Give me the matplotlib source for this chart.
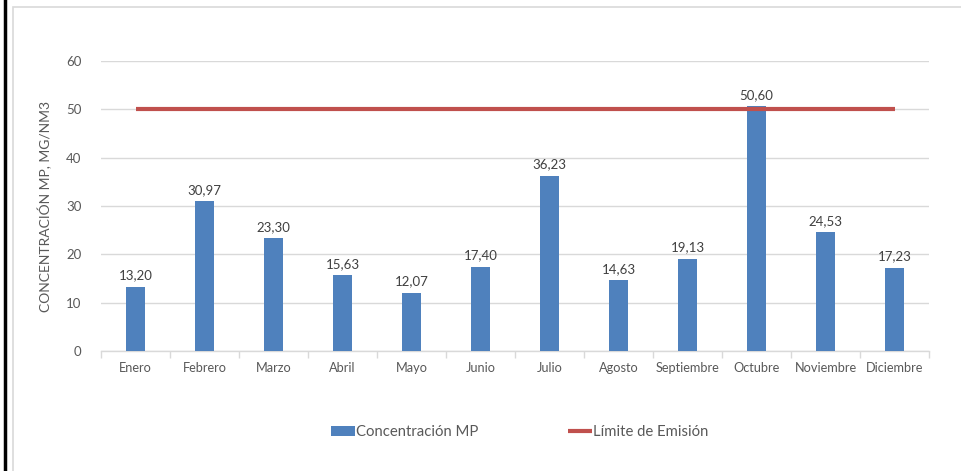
import matplotlib
matplotlib.use("Agg")
import matplotlib.pyplot as plt
from matplotlib.patches import Rectangle
from matplotlib.lines import Line2D
import numpy as np

months = ["Enero", "Febrero", "Marzo", "Abril", "Mayo", "Junio", "Julio",
          "Agosto", "Septiembre", "Octubre", "Noviembre", "Diciembre"]
concentracion = [13.20, 30.97, 23.30, 15.63, 12.07, 17.40, 36.23,
                 14.63, 19.13, 50.60, 24.53, 17.23]
limite = [50] * 12
yticks = [0, 10, 20, 30, 40, 50, 60]

plt.rcParams['font.family'] = ['Lato', 'DejaVu Sans']
txt = '#595959'
blue = '#4f81bd'
red = '#c0504d'

fig = plt.figure(figsize=(9.61, 4.71), dpi=100)
fig.patch.set_facecolor('white')

# frame and black edge line
fig.add_artist(Rectangle((13/961, -0.05), 1.0, (471-6.5)/471 + 0.05, transform=fig.transFigure,
                         fill=False, edgecolor='#d9d9d9', linewidth=1.2))
fig.add_artist(Line2D([5/961, 5/961], [0, 1], transform=fig.transFigure, color='black', linewidth=2.5))

ax = fig.add_axes([101/961, (471-351)/471, (929-101)/961, (351-61)/471])
x = np.arange(len(months))
bars = ax.bar(x, concentracion, width=0.28, color=blue, zorder=3, label='Concentración MP')
line, = ax.plot(x, limite, color=red, linewidth=3, zorder=4, label='Límite de Emisión', solid_capstyle='butt')

for xi, v in zip(x, concentracion):
    ax.annotate(f"{v:.2f}".replace('.', ','), (xi, v), xytext=(0, 4), textcoords='offset points',
                ha='center', va='bottom', fontsize=9.5, color='#404040', zorder=5)

ax.set_xlim(-0.5, 11.5)
ax.set_ylim(0, 60)
ax.set_yticks(yticks)
ax.set_yticklabels([str(t) for t in yticks], fontsize=9.5, color=txt)
ax.yaxis.grid(True, color='#d9d9d9', linewidth=1)
ax.set_axisbelow(True)
ax.tick_params(axis='y', length=0, pad=14)
ax.set_xticks(x)
ax.set_xticklabels(months, fontsize=9.2, color=txt)
ax.tick_params(axis='x', length=0, pad=8)
ax.set_xticks(np.arange(-0.5, 12, 1), minor=True)
ax.tick_params(axis='x', which='minor', length=5, color='#d9d9d9', width=1)
for s in ['top', 'right', 'left']:
    ax.spines[s].set_visible(False)
ax.spines['bottom'].set_color('#d9d9d9')
ax.spines['bottom'].set_linewidth(1)

ax.set_ylabel('CONCENTRACIÓN MP, MG/NM3', fontsize=10, color=txt, labelpad=10)

leg = fig.legend([bars, line], ['Concentración MP', 'Límite de Emisión'],
                 loc='center', bbox_to_anchor=(0.541, (471-432)/471), ncol=2, frameon=False,
                 fontsize=10.7, labelcolor=txt, handlelength=1.6, handletextpad=0.1,
                 columnspacing=6.0)

fig.savefig('out.png', dpi=100, facecolor='white')
